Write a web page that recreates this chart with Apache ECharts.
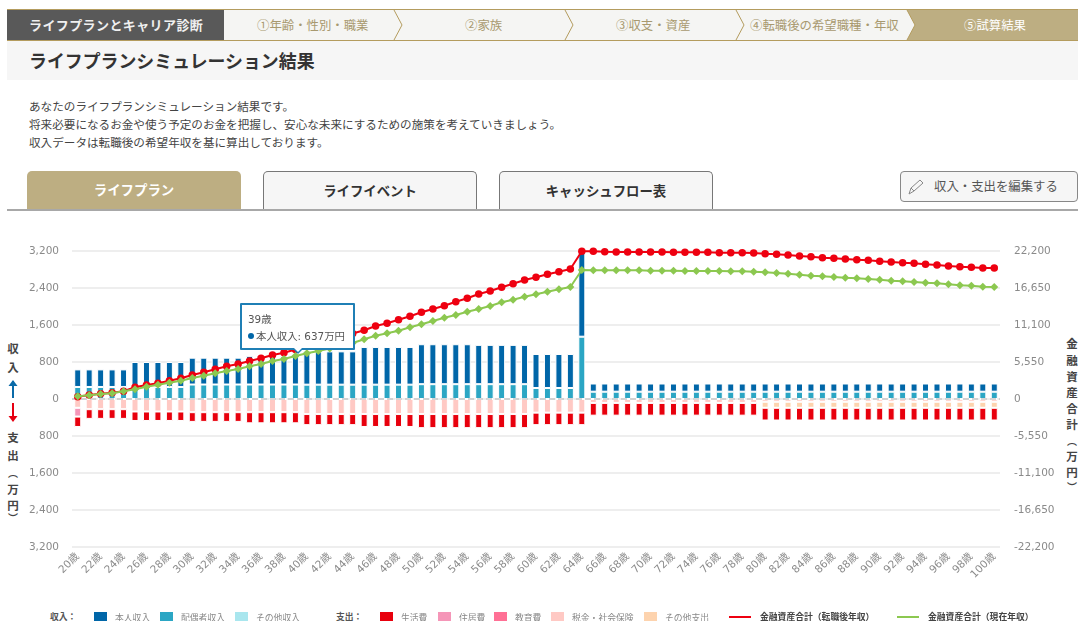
<!DOCTYPE html>
<html lang="ja">
<head>
<meta charset="utf-8">
<title>ライフプランシミュレーション結果</title>
<script src="https://cdn.jsdelivr.net/npm/echarts@6/dist/echarts.min.js"></script>
<style>
html,body{margin:0;padding:0;background:#fff;width:1078px;height:621px;overflow:hidden;font-family:"Noto Sans CJK JP","DejaVu Sans",sans-serif;}
.a{position:absolute;white-space:nowrap;}
#chart{position:absolute;left:0;top:0;width:1078px;height:621px;}
.tab{position:absolute;top:171px;height:39px;box-sizing:border-box;line-height:37px;text-align:center;font-weight:700;font-size:13.4px;border-radius:5px 5px 0 0;}
.v{position:absolute;width:20px;text-align:center;font-weight:700;font-size:11.5px;color:#444;line-height:14px;transform:translate(-10px,-7px);}
.step{position:absolute;top:17px;font-size:12.4px;line-height:16px;color:#a8996f;white-space:nowrap;}
.lg{position:absolute;top:611px;font-size:8.8px;line-height:12px;font-weight:700;color:#555;white-space:nowrap;}
</style>
</head>
<body>
<!-- 進行バー -->
<svg class="a" style="left:0;top:0" width="1078" height="44">
  <rect x="224" y="10" width="854" height="30" fill="#f5f5f3"/>
  <polygon points="907,10 1078,10 1078,40 907,40 915,25" fill="#bdae82"/>
  <rect x="7" y="10" width="217" height="30" fill="#595959"/>
  <line x1="7" y1="9.5" x2="1078" y2="9.5" stroke="#b49c5e"/>
  <line x1="7" y1="40.5" x2="1078" y2="40.5" stroke="#b49c5e"/>
  <polyline points="394,10 402,25 394,40" fill="none" stroke="#b49c5e"/>
  <polyline points="565,10 573,25 565,40" fill="none" stroke="#b49c5e"/>
  <polyline points="736,10 744,25 736,40" fill="none" stroke="#b49c5e"/>
  <polyline points="907,10 915,25 907,40" fill="none" stroke="#b49c5e"/>
</svg>
<div class="a" style="left:29px;top:16px;font-size:13px;line-height:18px;font-weight:700;color:#f0f0f0;letter-spacing:.4px">ライフプランとキャリア診断</div>
<div class="step" style="left:257px">①年齢・性別・職業</div>
<div class="step" style="left:465px">②家族</div>
<div class="step" style="left:616px">③収支・資産</div>
<div class="step" style="left:750px">④転職後の希望職種・年収</div>
<div class="step" style="left:964px;color:#fff">⑤試算結果</div>

<div class="a" style="left:7px;top:41px;width:1071px;height:39px;background:#f6f6f6"></div>
<div class="a" style="left:29px;top:47px;font-size:17.9px;line-height:26px;font-weight:700;color:#333">ライフプランシミュレーション結果</div>

<div class="a" style="left:29px;top:97px;font-size:11.6px;line-height:18px;color:#444">あなたのライフプランシミュレーション結果です。<br>将来必要になるお金や使う予定のお金を把握し、安心な未来にするための施策を考えていきましょう。<br>収入データは転職後の希望年収を基に算出しております。</div>

<div class="tab" style="left:27px;width:214px;background:#bdae82;color:#fff">ライフプラン</div>
<div class="tab" style="left:263px;width:214px;background:#f6f6f6;color:#333;border:1px solid #777;border-bottom:none">ライフイベント</div>
<div class="tab" style="left:499px;width:214px;background:#f6f6f6;color:#333;border:1px solid #777;border-bottom:none">キャッシュフロー表</div>
<div class="a" style="left:7px;top:209px;width:1071px;height:1.5px;background:#a8a8a8"></div>

<div class="a" style="left:900px;top:171px;width:178px;height:31px;box-sizing:border-box;background:#f6f6f6;border:1px solid #888;border-radius:4px"></div>
<svg class="a" style="left:907px;top:178px" width="20" height="18"><path d="M2 16 L4 10 L13 2 L16 5 L7 13 Z M4 10 L7 13" fill="none" stroke="#888" stroke-width="1"/></svg>
<div class="a" style="left:934px;top:177px;font-size:12.4px;line-height:18px;color:#555">収入・支出を編集する</div>

<!-- 左軸タイトル -->
<div class="v" style="left:13px;top:348px">収</div>
<div class="v" style="left:13px;top:367px">入</div>
<svg class="a" style="left:6px;top:379px" width="14" height="44">
  <path d="M7 2 L7 19" stroke="#0a6aa8" stroke-width="2"/><path d="M2.5 7 L7 1 L11.5 7 Z" fill="#0a6aa8"/>
  <path d="M7 24 L7 41" stroke="#e60012" stroke-width="2"/><path d="M2.5 37 L7 43 L11.5 37 Z" fill="#e60012"/>
</svg>
<div class="v" style="left:13px;top:437px">支</div>
<div class="v" style="left:13px;top:455px">出</div>
<div class="v" style="left:13px;top:473px;font-size:10px">︵</div>
<div class="v" style="left:13px;top:489px">万</div>
<div class="v" style="left:13px;top:505px">円</div>
<div class="v" style="left:13px;top:518px;font-size:10px">︶</div>

<!-- 右軸タイトル -->
<div class="v" style="left:1072px;top:343px">金</div>
<div class="v" style="left:1072px;top:360px">融</div>
<div class="v" style="left:1072px;top:376px">資</div>
<div class="v" style="left:1072px;top:392px">産</div>
<div class="v" style="left:1072px;top:408px">合</div>
<div class="v" style="left:1072px;top:424px">計</div>
<div class="v" style="left:1072px;top:441px;font-size:10px">︵</div>
<div class="v" style="left:1072px;top:456px">万</div>
<div class="v" style="left:1072px;top:472px">円</div>
<div class="v" style="left:1072px;top:487px;font-size:10px">︶</div>

<div class="lg" style="left:50px">収入：</div>
<div class="lg" style="left:336px">支出：</div>

<div id="chart"></div>
<script>
const ages = ["20歳","21歳","22歳","23歳","24歳","25歳","26歳","27歳","28歳","29歳",
"30歳","31歳","32歳","33歳","34歳","35歳","36歳","37歳","38歳","39歳",
"40歳","41歳","42歳","43歳","44歳","45歳","46歳","47歳","48歳","49歳",
"50歳","51歳","52歳","53歳","54歳","55歳","56歳","57歳","58歳","59歳",
"60歳","61歳","62歳","63歳","64歳","65歳","66歳","67歳","68歳","69歳",
"70歳","71歳","72歳","73歳","74歳","75歳","76歳","77歳","78歳","79歳",
"80歳","81歳","82歳","83歳","84歳","85歳","86歳","87歳","88歳","89歳",
"90歳","91歳","92歳","93歳","94歳","95歳","96歳","97歳","98歳","99歳","100歳"];

const selfIncome = [380,380,380,380,380,540,540,540,540,540,
580,580,580,580,580,620,620,620,620,637,
720,720,720,720,720,815,815,815,815,815,
864,864,864,864,864,850,850,850,850,850,
735,735,735,735,1845,177,177,177,177,177,
177,177,177,177,177,177,177,177,177,177,
177,177,177,177,177,177,177,177,177,177,
177,177,177,177,177,177,177,177,177,177,177];

const spouseIncome = [260,260,260,260,260,260,260,260,260,260,
313,313,313,313,313,313,313,313,313,313,
310,310,310,310,310,310,310,310,310,310,
320,320,320,320,320,320,320,320,320,320,
238,238,238,238,1347,158,158,158,158,158,
158,158,158,158,158,158,158,158,158,158,
158,158,158,158,158,158,158,158,158,158,
158,158,158,158,158,158,158,158,158,158,158];

// no bar of these two kinds is visible in the picture
const otherIncome = [];
const educationCost = [];

const taxCost = [190,220,220,220,220,270,270,270,270,270,
285,285,285,285,285,285,285,285,285,285,
325,325,325,325,325,325,325,325,325,325,
325,325,325,325,325,325,325,325,325,325,
295,295,295,295,295,85,85,85,85,85,
85,85,85,85,85,85,85,85,85,85,
60,60,60,60,60,60,60,60,60,60,
60,60,60,60,60,60,60,60,60,60,60];

const otherCost = [0,0,0,0,0,0,0,0,0,0,
0,0,0,0,0,0,0,0,0,0,
0,0,0,0,0,0,0,0,0,0,
0,0,0,0,0,0,0,0,0,0,
0,0,0,0,0,0,0,0,0,0,
0,0,0,0,0,0,0,0,0,0,
130,130,130,130,130,130,130,130,130,130,
130,130,130,130,130,130,130,130,130,130,130];

const housingCost = [190,0,0,0,0,0,0,0,0,0,
0,0,0,0,0,0,0,0,0,0,
0,0,0,0,0,0,0,0,0,0,
0,0,0,0,0,0,0,0,0,0,
0,0,0,0,0,0,0,0,0,0,
0,0,0,0,0,0,0,0,0,0,
0,0,0,0,0,0,0,0,0,0,
0,0,0,0,0,0,0,0,0,0,0];

const livingCost = [225,210,210,210,210,205,205,205,205,205,
210,210,210,210,210,240,240,240,240,240,
240,240,240,240,240,280,280,280,280,280,
305,305,305,305,305,305,305,305,305,305,
270,270,270,270,270,275,275,275,275,275,
275,275,275,275,275,275,275,275,275,275,
275,275,275,275,275,275,275,275,275,275,
275,275,275,275,275,275,275,275,275,275,275];

const assetsAfter = [345,600,795,945,1155,1755,2100,2355,2745,3105,
3600,4005,4455,4905,5250,5700,6105,6600,6945,7425,
7950,8400,8850,9300,9825,10305,10950,11355,11895,12405,
13005,13500,13995,14595,15105,15750,16200,16755,17295,17850,
18255,18705,19095,19500,22155,22155,22095,22050,22050,22050,
22050,22050,22005,22005,22005,22005,21945,21945,21945,21900,
21795,21705,21600,21450,21345,21195,21105,21000,20895,20805,
20655,20550,20445,20355,20205,20100,19950,19845,19755,19650,19650];

const assetsNow = [405,555,750,855,1155,1455,1845,2145,2445,2745,
3150,3495,3855,4200,4500,4905,5250,5700,6000,6450,
6855,7200,7575,7950,8400,8955,9495,9855,10245,10755,
11205,11700,12195,12600,13095,13500,13950,14505,14895,15345,
15705,16095,16455,16800,19350,19305,19305,19305,19305,19305,
19245,19245,19245,19200,19200,19200,19200,19155,19155,19095,
19005,18900,18795,18645,18495,18405,18300,18195,18105,18000,
17895,17745,17655,17550,17445,17355,17205,17055,16995,16845,16800];

const leftTicks = {min:-3200,max:3200,interval:800};
const rightTicks = {min:-22200,max:22200,interval:5550};
const tipIndex = 19;

const font = '"DejaVu Sans","Noto Sans CJK JP",sans-serif';
const neg = (a) => a.map(v => v === 0 ? null : -v);

function bar(name, data, color){
  return {name, type:'bar', stack:'total', yAxisIndex:0, barWidth:7, data,
    itemStyle:{color, borderColor:'#fff', borderWidth:1}, z:2, animation:false};
}
const series = [
  Object.assign(bar('配偶者収入', spouseIncome, '#2ba6c4'), {markLine:{silent:true, symbol:'none', label:{show:false}, animation:false,
    lineStyle:{color:'#c8c8c8',type:'dashed',width:1.5}, data:[{yAxis:0}]}}),
  bar('本人収入', selfIncome, '#0066a8'),
  bar('その他収入', otherIncome, '#a9e6ee'),
  bar('税金・社会保険', neg(taxCost), '#ffc9c4'),
  bar('その他支出', neg(otherCost), '#fdd3ae'),
  bar('教育費', neg(educationCost), '#ff7095'),
  bar('住居費', neg(housingCost), '#f596b8'),
  bar('生活費', neg(livingCost), '#e8000d'),
  {name:'金融資産合計（転職後年収）', type:'line', yAxisIndex:1, data:assetsAfter, symbol:'circle', symbolSize:7.5, showAllSymbol:true,
   lineStyle:{color:'#ee0010',width:2}, itemStyle:{color:'#ee0010'}, z:5, animation:false},
  {name:'金融資産合計（現在年収）', type:'line', yAxisIndex:1, data:assetsNow, symbol:'diamond', symbolSize:8, showAllSymbol:true,
   lineStyle:{color:'#8cc850',width:2}, itemStyle:{color:'#8cc850'}, z:6, animation:false}
];

function lg(name,left,line){
  return {data:[name], left, top:610, itemWidth:line?22:15, itemHeight:line?2:14, icon:'rect',
    padding:0, selectedMode:false,
    textStyle:{fontFamily:'"Noto Sans CJK JP",sans-serif', fontSize:8.8, color:line?'#444':'#888', fontWeight:line?700:400,
      padding:[0,0,0,line?4:2], lineHeight:14}};
}
const legends = [
  lg('本人収入',92), lg('配偶者収入',158), lg('その他収入',233),
  lg('生活費',378), lg('住居費',436), lg('教育費',492),
  lg('税金・社会保険',549), lg('その他支出',642),
  lg('金融資産合計（転職後年収）',729,true), lg('金融資産合計（現在年収）',897,true)
];

const chart = echarts.init(document.getElementById('chart'), null, {renderer:'canvas'});
chart.setOption({
  animation:false,
  backgroundColor:'transparent',
  grid:{left:72,right:78,top:251,height:296,containLabel:false},
  legend:legends,
  tooltip:{
    trigger:'item', alwaysShowContent:true, showContent:true, transitionDuration:0,
    position:[240,303], backgroundColor:'#fff', borderColor:'#1f7fb5', borderWidth:2, padding:0,
    extraCssText:'box-shadow:none;border-radius:1px;overflow:visible;width:115px;height:47px;box-sizing:border-box;',
    formatter:function(p){
      return '<div style="position:relative;width:111px;height:43px;font:10.4px '+font.replace(/"/g,"'")+';color:#555;">'
        +'<div style="position:absolute;left:6px;top:7px;line-height:14px">'+ages[p.dataIndex]+'</div>'
        +'<div style="position:absolute;left:6px;top:24px;line-height:14px;white-space:nowrap"><span style="display:inline-block;width:6px;height:6px;border-radius:50%;background:#0066a8;margin-right:2px;vertical-align:1px"></span>'+p.seriesName+': '+p.value+'万円</div>'
        +'<div style="position:absolute;left:50px;top:43px;width:0;height:0;border-left:6px solid transparent;border-right:6px solid transparent;border-top:6px solid #1f7fb5"></div>'
        +'<div style="position:absolute;left:52px;top:43px;width:0;height:0;border-left:4px solid transparent;border-right:4px solid transparent;border-top:4px solid #fff"></div>'
        +'</div>';
    }
  },
  xAxis:{type:'category', data:ages, boundaryGap:true,
    axisLine:{show:false,onZero:false}, axisTick:{show:false},
    splitLine:{show:false},
    axisLabel:{interval:1,rotate:45,margin:8,fontFamily:font,fontSize:10.5,color:'#8a8a8a'}},
  yAxis:[
    {type:'value',...leftTicks,position:'left',axisLine:{show:false},axisTick:{show:false},
     splitLine:{show:true,lineStyle:{color:'#eeeeee',width:2}},
     axisLabel:{margin:13,fontFamily:font,fontSize:10.5,color:'#8a8a8a',
       formatter:v=>Math.abs(v).toLocaleString('en-US')}},
    {type:'value',...rightTicks,position:'right',axisLine:{show:false},axisTick:{show:false},
     splitLine:{show:false},
     axisLabel:{margin:14,fontFamily:font,fontSize:10.5,color:'#8a8a8a',
       formatter:v=>v.toLocaleString('en-US')}}
  ],
  series
});
chart.dispatchAction({type:'showTip',seriesIndex:1,dataIndex:tipIndex});
</script>
</body>
</html>
